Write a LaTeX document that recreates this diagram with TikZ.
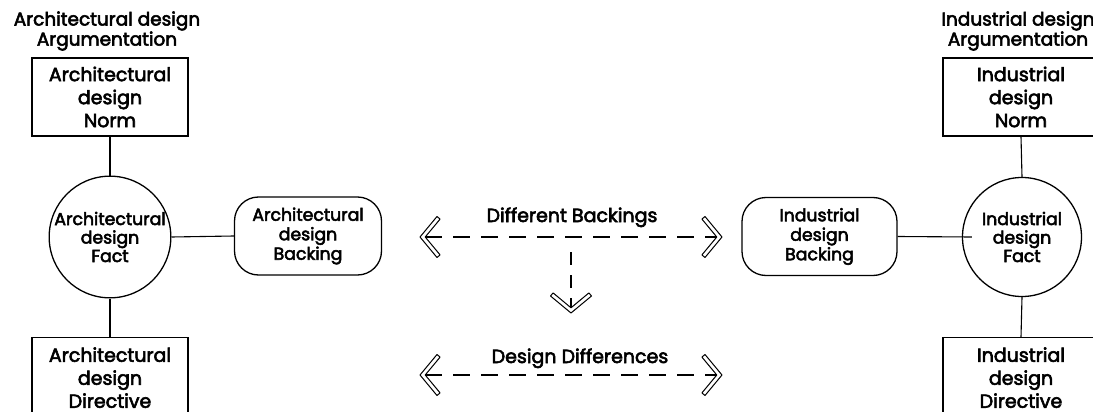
\documentclass[tikz,border=0pt]{standalone}
\usepackage{fontspec}
\setmainfont{Poppins}[FakeBold=3]
\begin{document}
\begin{tikzpicture}[x=1pt,y=-1pt,
  line width=1.1pt,
  titletext/.style={align=center,inner sep=0pt,font=\fontsize{18.5}{19}\selectfont},
  sqbox/.style={draw,line width=1.3pt,rectangle,minimum width=156pt,minimum height=78pt,
    inner sep=0pt,align=center,font=\fontsize{19}{23}\selectfont},
  factnode/.style={draw,line width=1.3pt,circle,minimum size=119pt,inner sep=0pt,
    align=center,font=\fontsize{17.3}{18.5}\selectfont},
  backnode/.style={draw,line width=1.3pt,rectangle,rounded corners=24pt,minimum height=78pt,
    inner sep=0pt,align=center,font=\fontsize{17.3}{19.5}\selectfont},
  midlabel/.style={anchor=base,inner sep=0pt,font=\fontsize{19}{22}\selectfont},
  link/.style={line width=1.1pt},
  dashlink/.style={line width=1.3pt,dash pattern=on 17pt off 11pt},
  chevron/.pic={
    \draw[line width=1pt,line join=round,fill=white]
      (0,0) -- (17,20.5) -- (20.1,17.9) -- (5.2,0) -- (20.1,-17.9) -- (17,-20.5) -- cycle;
  }]
\clip (0,0) rectangle (1093,412);

% architectural design argumentation
\node[titletext] (titleA) at (107,31) {Architectural design\\Argumentation};
\node[sqbox] (normA) at (110,97) {Architectural\\design\\Norm};
\node[factnode] (factA) at (110,237) {Architectural\\design\\Fact};
\node[backnode,minimum width=147pt] (backA) at (308,236) {Architectural\\design\\Backing};
\node[sqbox,anchor=north,minimum height=80pt] (dirA) at (110,337) {Architectural\\design\\Directive};

\draw[link] (normA.south) -- (factA.north);
\draw[link] (factA.east) -- (backA.west);
\draw[link] (factA.south) -- (dirA.north);

% industrial design argumentation
\node[titletext] (titleI) at (1018,31) {Industrial design\\Argumentation};
\node[sqbox] (normI) at (1021,97) {Industrial\\design\\Norm};
\node[factnode] (factI) at (1022,237) {Industrial\\design\\Fact};
\node[backnode,minimum width=155pt] (backI) at (819.5,236.5) {Industrial\\design\\Backing};
\node[sqbox,anchor=north,minimum height=80pt] (dirI) at (1021,337) {Industrial\\design\\Directive};

\draw[link] (normI.south) -- (factI.north);
\draw[link] (backI.east) -- ([xshift=10pt]factI.west);
\draw[link] (factI.south) -- (dirI.north);

% comparison arrows
\coordinate (dbL) at (420,237);
\coordinate (dbR) at (722,237);
\coordinate (ddL) at (420,375);
\coordinate (ddR) at (722,375);
\coordinate (vTop) at (571,252);
\coordinate (vTip) at (571,313);

\node[midlabel] (labB) at (572,222) {Different Backings};
\node[midlabel] (labD) at (580,363) {Design Differences};

\draw[dashlink] ([xshift=5pt]dbL) -- ([xshift=-5pt]dbR);
\draw[dashlink] ([xshift=5pt]ddL) -- ([xshift=-5pt]ddR);
\draw[dashlink,dash pattern=on 13pt off 10pt] (vTop) -- ([yshift=-5pt]vTip);

\pic at (dbL) {chevron};
\pic[rotate=180] at (dbR) {chevron};
\pic at (ddL) {chevron};
\pic[rotate=180] at (ddR) {chevron};
\pic[rotate=90] at (vTip) {chevron};
\end{tikzpicture}
\end{document}
